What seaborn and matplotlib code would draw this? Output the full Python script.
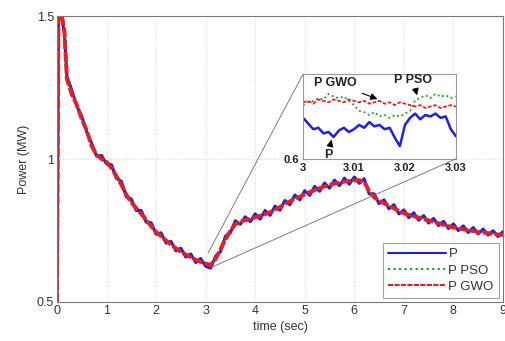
import numpy as np
import pandas as pd
import matplotlib
matplotlib.use("Agg")
import matplotlib.pyplot as plt
import seaborn as sns
from matplotlib.patches import ConnectionPatch

# ---------------- data ----------------
time_main = [0.0, 0.03, 0.1, 0.15] + [round(0.2 + 0.1 * i, 2) for i in range(89)]

P = [0.5, 1.5, 1.49, 1.44,
     1.29, 1.24, 1.185, 1.15, 1.095, 1.055, 1.01, 1.012,
     0.983, 0.98, 0.932, 0.922, 0.868, 0.86, 0.82, 0.82, 0.779, 0.777,
     0.737, 0.742, 0.706, 0.712, 0.679, 0.688, 0.657, 0.668, 0.638, 0.652,
     0.625, 0.618, 0.66, 0.676, 0.73, 0.742, 0.784, 0.772, 0.798, 0.781,
     0.808, 0.79, 0.82, 0.803, 0.835, 0.821, 0.855, 0.84, 0.874, 0.857,
     0.889, 0.873, 0.904, 0.887, 0.916, 0.898, 0.926, 0.907, 0.933, 0.912,
     0.937, 0.915, 0.931, 0.878, 0.878, 0.844, 0.857, 0.826, 0.84, 0.808,
     0.822, 0.795, 0.812, 0.786, 0.802, 0.776, 0.792, 0.767, 0.782, 0.757,
     0.773, 0.75, 0.766, 0.743, 0.76, 0.738, 0.755, 0.734, 0.749, 0.729,
     0.746]

P_GWO = [0.5, 1.5, 1.5, 1.45,
         1.28, 1.225, 1.19, 1.14, 1.1, 1.045, 1.015, 1.0,
         0.99, 0.968, 0.94, 0.91, 0.875, 0.848, 0.828, 0.808, 0.788, 0.765,
         0.745, 0.73, 0.715, 0.70, 0.688, 0.676, 0.666, 0.657, 0.648, 0.64,
         0.634, 0.63, 0.65, 0.685, 0.718, 0.75, 0.772, 0.781, 0.786, 0.79,
         0.796, 0.801, 0.807, 0.814, 0.822, 0.832, 0.842, 0.852, 0.861, 0.868,
         0.876, 0.884, 0.891, 0.898, 0.904, 0.909, 0.914, 0.918, 0.921, 0.923,
         0.925, 0.926, 0.92, 0.888, 0.866, 0.855, 0.845, 0.837, 0.828, 0.818,
         0.81, 0.805, 0.8, 0.795, 0.79, 0.785, 0.78, 0.775, 0.77, 0.765,
         0.761, 0.758, 0.754, 0.751, 0.748, 0.745, 0.743, 0.741, 0.738, 0.736,
         0.734]

P_PSO = [0.5, 1.5, 1.5, 1.45,
         1.282, 1.222, 1.192, 1.138, 1.102, 1.043, 1.017, 0.998,
         0.992, 0.966, 0.942, 0.908, 0.877, 0.846, 0.83, 0.806, 0.79, 0.763,
         0.747, 0.728, 0.717, 0.698, 0.69, 0.674, 0.668, 0.655, 0.65, 0.638,
         0.636, 0.628, 0.652, 0.683, 0.72, 0.748, 0.774, 0.779, 0.788, 0.788,
         0.798, 0.799, 0.809, 0.812, 0.824, 0.83, 0.844, 0.85, 0.863, 0.866,
         0.878, 0.882, 0.893, 0.896, 0.906, 0.907, 0.916, 0.916, 0.923, 0.921,
         0.927, 0.924, 0.922, 0.886, 0.868, 0.853, 0.847, 0.835, 0.83, 0.816,
         0.812, 0.803, 0.802, 0.793, 0.792, 0.783, 0.782, 0.773, 0.772, 0.763,
         0.763, 0.756, 0.756, 0.749, 0.75, 0.743, 0.745, 0.739, 0.74, 0.734,
         0.736]

# zoomed window 3.000 .. 3.030 s
time_zoom = [round(3.0 + 0.001 * i, 3) for i in range(31)]
P_zoom = [0.629, 0.625, 0.621, 0.622, 0.618, 0.619, 0.6155, 0.620, 0.622, 0.619,
          0.621, 0.624, 0.622, 0.626, 0.623, 0.624, 0.621, 0.622, 0.615, 0.609,
          0.624, 0.629, 0.632, 0.628, 0.631, 0.630, 0.632, 0.629, 0.630, 0.621,
          0.616]
P_PSO_zoom = [0.638, 0.640, 0.641, 0.643, 0.642, 0.646, 0.644, 0.643, 0.644, 0.641,
              0.638, 0.634, 0.633, 0.631, 0.633, 0.630, 0.631, 0.629, 0.631, 0.630,
              0.632, 0.634, 0.6415, 0.643, 0.645, 0.643, 0.646, 0.644, 0.645, 0.643,
              0.644]
P_GWO_zoom = [0.640, 0.641, 0.639, 0.642, 0.641, 0.640, 0.642, 0.641, 0.640, 0.642,
              0.641, 0.640, 0.641, 0.639, 0.640, 0.641, 0.639, 0.640, 0.638, 0.640,
              0.639, 0.638, 0.637, 0.638, 0.636, 0.637, 0.638, 0.636, 0.637, 0.638,
              0.637]

xticks_main = [0, 1, 2, 3, 4, 5, 6, 7, 8, 9]
yticks_main = [0.5, 1, 1.5]
xticks_zoom = [3.0, 3.01, 3.02, 3.03]
xticklabels_zoom = ["3", "3.01", "3.02", "3.03"]

# ---------------- style ----------------
sns.set_style("white")
plt.rcParams["font.family"] = ["Liberation Sans", "DejaVu Sans"]

BLUE = "#1f1fe6"
GREEN = "#12a012"
RED = "#ee1c1c"
TXT = "#333333"

fig = plt.figure(figsize=(5.06, 3.41), dpi=100)
ax = fig.add_axes([0.1126, 0.1144, 0.8814, 0.8386])

df = pd.DataFrame({"t": time_main, "P": P, "P PSO": P_PSO, "P GWO": P_GWO})

sns.lineplot(data=df, x="t", y="P", ax=ax, color=BLUE, lw=2.2, label="P")
sns.lineplot(data=df, x="t", y="P PSO", ax=ax, color=GREEN, lw=1.3,
             linestyle=":", label="P PSO")
sns.lineplot(data=df, x="t", y="P GWO", ax=ax, color=RED, lw=2.8,
             linestyle=(0, (2.5, 0.6)), label="P GWO")

ax.set_xlim(0, 9)
ax.set_ylim(0.5, 1.5)
ax.set_xticks(xticks_main)
ax.set_yticks(yticks_main)
ax.set_yticklabels(["0.5", "1", "1.5"])
ax.grid(True, color="#d5d5d5", ls=":", lw=0.7)
ax.tick_params(direction="in", length=3, labelsize=9, colors=TXT, pad=2)
for s in ax.spines.values():
    s.set_color("#7a7a7a")
    s.set_linewidth(0.8)
ax.set_xlabel("time (sec)", fontsize=9, color=TXT, labelpad=3)
ax.set_ylabel("Power (MW)", fontsize=9, color=TXT, labelpad=5)

leg = ax.legend(loc="lower right", fontsize=9.5, frameon=True, fancybox=False,
                borderaxespad=0.3, handlelength=4.4, handletextpad=0.2,
                labelspacing=0.3, borderpad=0.4)
leg.get_frame().set_edgecolor("#888888")
leg.get_frame().set_linewidth(0.8)
for line in leg.get_lines():
    line.set_linewidth(1.5)
for t in leg.get_texts():
    t.set_color(TXT)

# ---------------- inset ----------------
axins = fig.add_axes([0.599, 0.534, 0.302, 0.249])
dz = pd.DataFrame({"t": time_zoom, "P": P_zoom, "P PSO": P_PSO_zoom, "P GWO": P_GWO_zoom})
sns.lineplot(data=dz, x="t", y="P PSO", ax=axins, color=GREEN, lw=1.3, linestyle=":")
sns.lineplot(data=dz, x="t", y="P GWO", ax=axins, color=RED, lw=1.3, linestyle=(0, (2, 1)))
sns.lineplot(data=dz, x="t", y="P", ax=axins, color=BLUE, lw=1.8)
axins.set_xlim(3.0, 3.03)
axins.set_ylim(0.6, 0.66)
axins.set_xticks(xticks_zoom)
axins.set_xticklabels(xticklabels_zoom, fontweight="bold")
axins.set_yticks([0.6])
axins.set_yticklabels(["0.6"], fontweight="bold")
axins.set_xlabel("")
axins.set_ylabel("")
axins.tick_params(direction="in", length=0, labelsize=8, colors="#222222", pad=3)
for s in axins.spines.values():
    s.set_color("#9a9a9a")
    s.set_linewidth(0.8)

arrow = dict(arrowstyle="-|>", color="black", lw=0.8, mutation_scale=10)
axins.annotate("P GWO", xy=(3.0151, 0.6416), xytext=(3.0063, 0.6536),
               fontsize=9, fontweight="bold", ha="center", va="center",
               color="#222222", arrowprops=arrow)
axins.annotate("P PSO", xy=(3.0225, 0.643), xytext=(3.0216, 0.6558),
               fontsize=9, fontweight="bold", ha="center", va="center",
               color="#222222", arrowprops=arrow)
axins.annotate("P", xy=(3.0057, 0.6155), xytext=(3.0049, 0.6028),
               fontsize=9, fontweight="bold", ha="center", va="center",
               color="#222222", arrowprops=arrow)

# zoom connector lines
for xyA, xyB in [((3.05, 0.671), (0, 1)), ((3.09, 0.619), (1, 0))]:
    con = ConnectionPatch(xyA=xyA, coordsA=ax.transData, xyB=xyB,
                          coordsB=axins.transAxes, color="#6a6a6a", lw=0.6)
    fig.add_artist(con)

fig.savefig("out.png", dpi=100)
